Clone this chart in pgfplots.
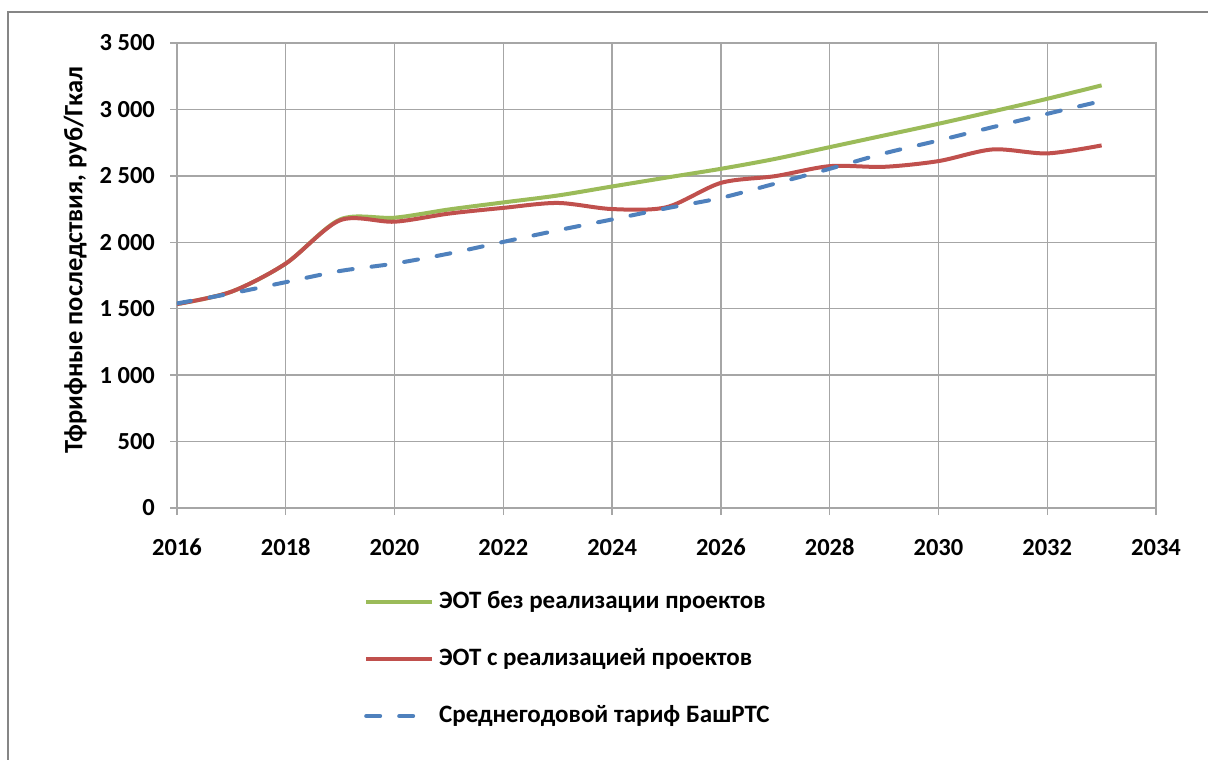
\documentclass[border=0pt]{standalone}
\usepackage{fontspec}
\setmainfont{Carlito}
\usepackage{pgfplots}
\pgfplotsset{compat=1.18}
\definecolor{cgreen}{RGB}{155,187,89}
\definecolor{cred}{RGB}{192,80,77}
\definecolor{cblue}{RGB}{79,129,189}
\definecolor{cgrid}{RGB}{166,166,166}
\definecolor{cframe}{RGB}{134,134,134}
\pgfplotstableread{
year green red blue
2016 1535 1535 1540
2017 1628 1628 1615
2018 1840 1840 1700
2019 2172 2166 1784
2020 2185 2155 1840
2021 2247 2216 1915
2022 2300 2259 2003
2023 2352 2296 2090
2024 2420 2250 2172
2025 2487 2264 2256
2026 2553 2447 2334
2027 2628 2498 2442
2028 2716 2573 2553
2029 2804 2568 2669
2030 2892 2611 2766
2031 2985 2699 2867
2032 3080 2669 2967
2033 3181 2729 3063
}\datatable
\begin{document}
\begin{tikzpicture}[x=1pt,y=1pt]
\path[use as bounding box] (-177,-252) rectangle (1031,508);
\draw[cframe, line width=2pt] (-168.5,-252) -- (-168.5,496) -- (1031,496);
\begin{axis}[
  at={(0,0)}, anchor=south west,
  scale only axis, width=979pt, height=465pt,
  xmin=2016, xmax=2034, ymin=0, ymax=3500,
  xtick={2016,2018,...,2034},
  xticklabels={2016,2018,2020,2022,2024,2026,2028,2030,2032,2034},
  ytick={0,500,...,3500},
  yticklabels={0,500,1 000,1 500,2 000,2 500,3 000,3 500},
  grid=major,
  major grid style={cgrid, line width=1.3pt},
  axis line style={cgrid, line width=1.3pt},
  tick style={cgrid, line width=1.3pt},
  tick align=outside, major tick length=7pt,
  xtick pos=bottom, ytick pos=left,
  ticklabel style={font=\bfseries\fontsize{24.5}{24.5}\selectfont, inner sep=0pt},
  xticklabel style={anchor=north, text height=15.5pt, text depth=0pt, yshift=-25pt},
  yticklabel style={xshift=-15pt},
  ylabel={Тфрифные последствия, руб/Гкал},
  ylabel style={font=\bfseries\fontsize{26.5}{26.5}\selectfont, at={(axis description cs:-0.104,0.533)}, anchor=center},
  legend style={draw=none, fill=none, at={(axis description cs:0.191,-0.174)}, anchor=north west,
    font=\bfseries\fontsize{25}{25}\selectfont, row sep=31pt, inner sep=0pt,
    nodes={inner sep=2pt, text height=17pt, text depth=5pt, anchor=west}},
  legend cell align=left,
  legend image code/.code={\draw[#1] (0pt,0pt) -- (66pt,0pt); \path (69pt,0pt);},
]
\addplot[cgreen, line width=4pt, smooth] table[x=year, y=green] {\datatable};
\addlegendentry{ЭОТ без реализации проектов}
\addplot[cred, line width=4pt, smooth] table[x=year, y=red] {\datatable};
\addlegendentry{ЭОТ с реализацией проектов}
\addplot[cblue, line width=4pt, smooth, line cap=round, dash pattern=on 14pt off 19pt] table[x=year, y=blue] {\datatable};
\addlegendentry{Среднегодовой тариф БашРТС}
\end{axis}
\end{tikzpicture}
\end{document}
